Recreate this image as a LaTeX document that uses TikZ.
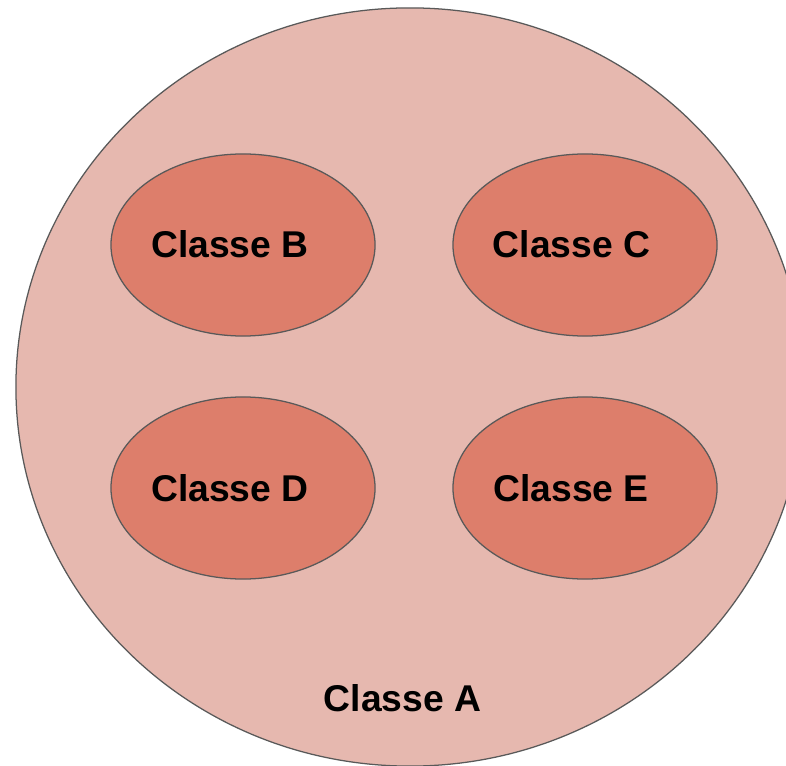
\documentclass[tikz,border=0pt]{standalone}
\usepackage{fontspec}
\setmainfont{Liberation Sans}
\usepackage{tikz}

\definecolor{outerfill}{HTML}{E6B8AF}
\definecolor{innerfill}{HTML}{DD7E6B}
\definecolor{rim}{HTML}{595959}

\tikzset{
    classlabel/.style={inner sep=0pt, font=\fontsize{26.5}{30}\selectfont\bfseries},
    rimline/.style={draw=rim, line width=0.9pt}
}

\begin{document}
\begin{tikzpicture}[x=0.025cm, y=-0.025cm]
    \useasboundingbox (0,0) rectangle (786,766);
    \clip (0,0) rectangle (786,766);

    % grande ellisse esterna
    \draw[rimline, fill=outerfill] (410,387) ellipse (9.85cm and 9.475cm);

    % le quattro sottoclassi
    \foreach \cx/\cy in {243/245, 585/245, 243/488, 585/488} {
        \draw[rimline, fill=innerfill] (\cx,\cy) ellipse (3.3cm and 2.275cm);
    }

    % etichette
    \node[classlabel] (classB) at (230,244) {Classe B};
    \node[classlabel] (classC) at (571.5,244) {Classe C};
    \node[classlabel] (classD) at (230,488) {Classe D};
    \node[classlabel] (classE) at (571,488) {Classe E};
    \node[classlabel] (classA) at (402.5,698) {Classe A};
\end{tikzpicture}
\end{document}
